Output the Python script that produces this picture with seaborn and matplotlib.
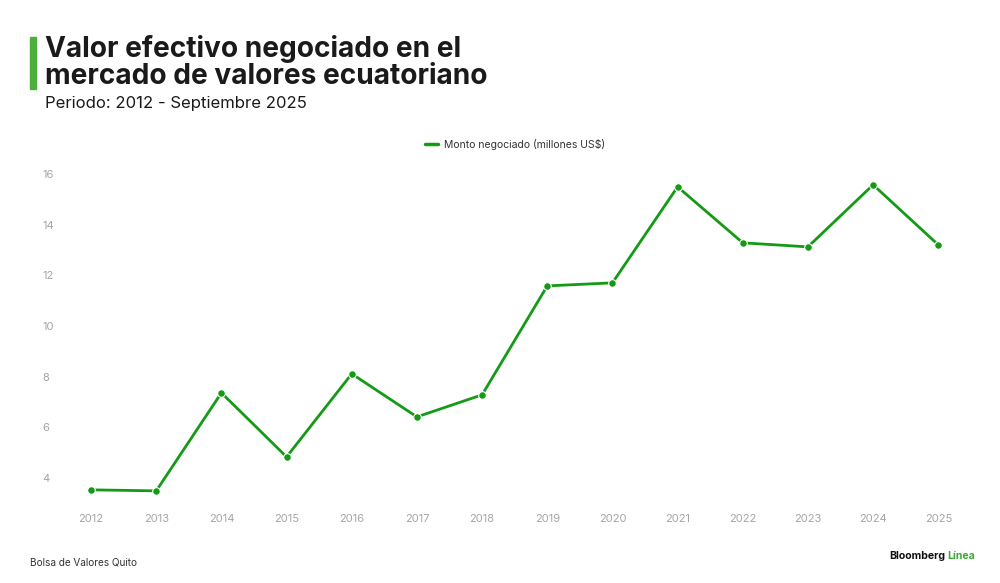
import matplotlib
matplotlib.use("Agg")
import matplotlib.pyplot as plt
import seaborn as sns
import pandas as pd

years = [2012, 2013, 2014, 2015, 2016, 2017, 2018, 2019, 2020, 2021, 2022, 2023, 2024, 2025]
monto = [3.53, 3.49, 7.36, 4.83, 8.11, 6.41, 7.28, 11.58, 11.70, 15.49, 13.28, 13.12, 15.57, 13.20]
yticks = [4, 6, 8, 10, 12, 14, 16]
series_name = "Monto negociado (millones US$)"

sns.set_theme(style="white")
plt.rcParams['font.family'] = ['Inter', 'DejaVu Sans']

df = pd.DataFrame({"year": years, "value": monto})

fig = plt.figure(figsize=(10, 5.83), dpi=100)
ax = fig.add_axes([0.08, 0.1424, 0.87, 0.5832])

line_color = "#159a15"
sns.lineplot(data=df, x="year", y="value", ax=ax, color=line_color, linewidth=2.0,
             marker="o", markersize=5.5, markeredgecolor="white", markeredgewidth=0.8,
             label=series_name)

ax.set_xlim(2011.83, 2025.18)
ax.set_ylim(3.13, 16.55)
ax.set_xticks(years)
ax.set_xticklabels([str(y) for y in years])
ax.set_yticks(yticks)
ax.set_yticklabels([str(t) for t in yticks])
ax.tick_params(axis='both', colors="#a5a5a5", labelsize=8, length=0)
ax.tick_params(axis='x', pad=10)
for lab in ax.get_yticklabels():
    lab.set_horizontalalignment('left')
ax.yaxis.set_tick_params(pad=27)
ax.set_xlabel("")
ax.set_ylabel("")
for s in ax.spines.values():
    s.set_visible(False)
ax.grid(False)

leg = ax.legend(loc="upper center", bbox_to_anchor=(0.5, 1.09), frameon=False,
                fontsize=7.5, handlelength=1.2, handletextpad=0.6)
for h in leg.get_lines():
    h.set_marker("")
    h.set_linewidth(2.5)
for t in leg.get_texts():
    t.set_color("#333333")

# Title block
fig.patches.append(plt.Rectangle((30 / 1000, 1 - 89 / 583), 6 / 1000, 52 / 583,
                                 transform=fig.transFigure, color="#4caf3c", zorder=5))
fig.text(0.045, 1 - 35 / 583, "Valor efectivo negociado en el\nmercado de valores ecuatoriano",
         fontsize=20.2, fontweight="bold", color="#1a1a1a", va="top", ha="left",
         linespacing=0.98)
fig.text(0.045, 1 - 96 / 583, "Periodo: 2012 - Septiembre 2025", fontsize=12,
         color="#1a1a1a", va="top", ha="left")

fig.text(0.03, 1 - 563 / 583, "Bolsa de Valores Quito", fontsize=7.2, color="#333333",
         va="center", ha="left")
fig.text(0.945, 1 - 556 / 583, "Bloomberg", fontsize=7.6, fontweight="bold", color="#111111",
         va="center", ha="right")
fig.text(0.947, 1 - 556 / 583, "Línea", fontsize=7.6, fontweight="bold", color="#3aa935",
         va="center", ha="left")

fig.savefig("out.png", dpi=100, facecolor="white")
